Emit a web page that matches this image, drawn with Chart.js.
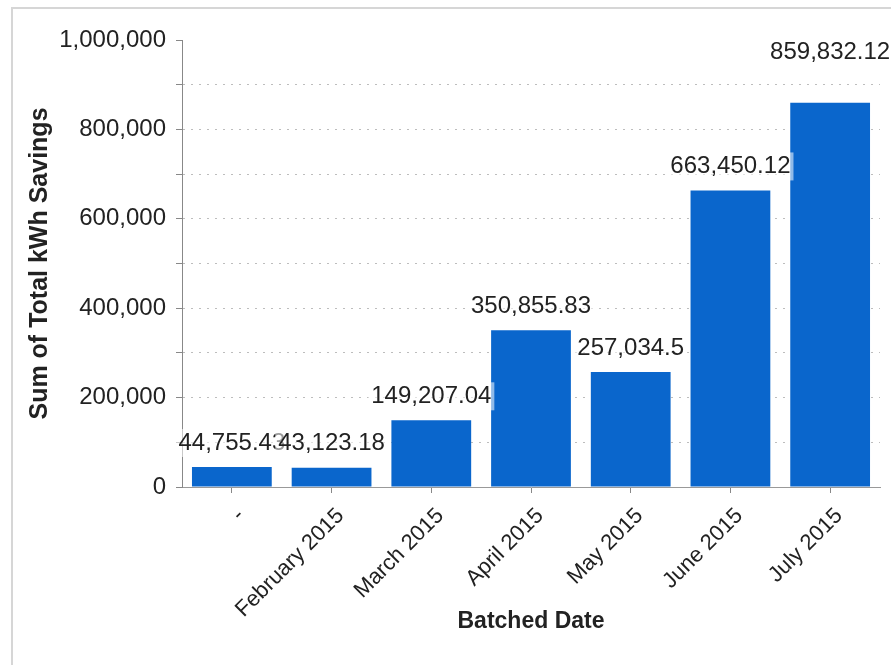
<!DOCTYPE html>
<html>
<head>
<meta charset="utf-8">
<script src="https://cdn.jsdelivr.net/npm/chart.js@4/dist/chart.umd.min.js"></script>
<style>
  html, body { margin: 0; padding: 0; background: #fff; overflow: hidden; }
  #frame {
    position: absolute; left: 11px; top: 7px; width: 900px; height: 700px;
    border-left: 2px solid #d6d6d6; border-top: 2px solid #d6d6d6;
  }
  #chart { position: absolute; left: 0; top: 0; }
</style>
</head>
<body>
<div id="frame"></div>
<canvas id="chart" width="891" height="665"></canvas>
<script>
// categories + values
const batchedDates = ["-", "February 2015", "March 2015", "April 2015", "May 2015", "June 2015", "July 2015"];
const kwhSavings = [44755.43, 43123.18, 149207.04, 350855.83, 257034.5, 663450.12, 859832.12];
const yTickStep = 100000;
const yMax = 1000000;

const fmt = (v) => v.toLocaleString("en-US", { maximumFractionDigits: 2 });
const FONT = "'Liberation Sans', Arial, sans-serif";

// value labels above each bar, on a faded white box
const barLabels = {
  id: "barLabels",
  afterDatasetsDraw(chart) {
    const ctx = chart.ctx;
    const meta = chart.getDatasetMeta(0);
    const last = meta.data.length - 1;
    ctx.save();
    ctx.font = "24px " + FONT;
    ctx.textAlign = "center";
    ctx.textBaseline = "middle";
    meta.data.forEach((bar, i) => {
      const text = fmt(kwhSavings[i]);
      const w = ctx.measureText(text).width;
      // the last label sits higher in the original (pushed off the grid line)
      const cy = bar.y - (i === last ? 50 : 24);
      ctx.fillStyle = "rgba(255,255,255,0.55)";
      ctx.fillRect(bar.x - w / 2 - 3, cy - 14, w + 6, 28);
      ctx.fillStyle = "#222";
      ctx.fillText(text, bar.x, cy);
    });
    ctx.restore();
  },
};

new Chart(document.getElementById("chart"), {
  type: "bar",
  data: {
    labels: batchedDates,
    datasets: [
      {
        data: kwhSavings,
        backgroundColor: "#0a66cc",
        categoryPercentage: 0.8,
        barPercentage: 1,
      },
    ],
  },
  options: {
    responsive: false,
    animation: false,
    layout: { padding: { left: 0, top: 40, right: 11, bottom: 0 } },
    plugins: {
      legend: { display: false },
      tooltip: { enabled: false },
    },
    scales: {
      x: {
        afterFit: (scale) => { scale.height = 178; },
        grid: { offset: false, drawOnChartArea: false, drawTicks: true, tickLength: 6, tickColor: "#888" },
        border: { color: "#999", width: 1 },
        ticks: {
          minRotation: 45,
          maxRotation: 45,
          autoSkip: false,
          padding: 10,
          labelOffset: 9,
          color: "#222",
          font: { family: FONT, size: 22 },
        },
        title: {
          display: true,
          text: "Batched Date",
          color: "#222",
          font: { family: FONT, size: 23, weight: "bold" },
          padding: { bottom: 30 },
        },
      },
      y: {
        min: 0,
        max: yMax,
        afterFit: (scale) => { scale.width = 182; },
        grid: {
          color: (c) => (c.tick && (c.tick.value === 0 || c.tick.value === yMax) ? "rgba(0,0,0,0)" : "#bdbdbd"),
          tickColor: "#888",
          tickLength: 6,
          tickBorderDash: [],
        },
        border: { color: "#888", width: 1, dash: [2, 6] },
        ticks: {
          stepSize: yTickStep,
          autoSkip: false,
          padding: 10,
          color: "#222",
          font: { family: FONT, size: 24 },
          callback: (v) => (v % 200000 === 0 ? fmt(v) : ""),
        },
        title: {
          display: true,
          text: "Sum of Total kWh Savings",
          color: "#222",
          font: { family: FONT, size: 25, weight: "bold" },
          padding: { top: 25 },
        },
      },
    },
  },
  plugins: [barLabels],
});
</script>
</body>
</html>
